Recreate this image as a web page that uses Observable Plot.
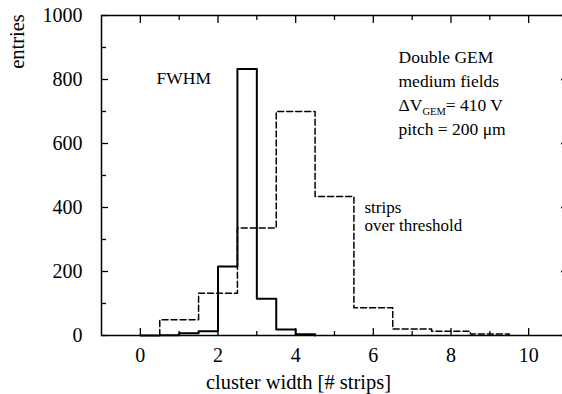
<!DOCTYPE html>
<html><head><meta charset="utf-8">
<script src="https://cdn.jsdelivr.net/npm/d3@7"></script>
<script src="https://cdn.jsdelivr.net/npm/@observablehq/plot@0.6"></script>
<style>html,body{margin:0;padding:0;background:#fff;} svg text{font-family:'Liberation Serif',serif;}</style>
</head><body><div id="chart"></div>
<script>
// FWHM cluster width histogram (bin lower edges, counts)
const fwhmBinLow = [0, 0.5, 1.0, 1.5, 2.0, 2.5, 3.0, 3.5, 4.0];
const fwhmCounts = [0, 1, 7, 13, 216, 833, 115, 19, 4];
const fwhmBinWidth = 0.5;
// strips over threshold histogram (bin centers, counts)
const stripsBinCenter = [1, 2, 3, 4, 5, 6, 7, 8, 9];
const stripsCounts = [49, 132, 336, 700, 434, 87, 20, 13, 5];
const stripsBinWidth = 1;
// ticks
const xMajorTicks = [0, 2, 4, 6, 8, 10];
const xMinorTicks = [1, 3, 5, 7, 9];
const yMajorTicks = [0, 200, 400, 600, 800, 1000];
const yMinorTicks = [100, 300, 500, 700, 900];
const infoLines = ["Double GEM", "medium fields", "ΔVGEM= 410 V", "pitch = 200 μm"];
const stripsLabel = ["strips", "over threshold"];

function steps(lows, counts, w) {
  const pts = [{x: lows[0], y: 0}];
  lows.forEach((lo, i) => pts.push({x: lo, y: counts[i]}));
  const hi = lows[lows.length - 1] + w;
  pts.push({x: hi, y: counts[counts.length - 1]});
  pts.push({x: hi, y: 0});
  return pts;
}
const fwhmSteps = steps(fwhmBinLow, fwhmCounts, fwhmBinWidth);
const stripsSteps = steps(stripsBinCenter.map(c => c - stripsBinWidth / 2), stripsCounts, stripsBinWidth);

const font = "'Liberation Serif', serif";
const fmt = d => String(d);
const chart = Plot.plot({
  width: 562,
  height: 394,
  marginLeft: 101,
  marginRight: -5,
  marginTop: 15,
  marginBottom: 59,
  style: {fontFamily: font, fontSize: "20px", background: "white", color: "black"},
  x: {domain: [-1, 11], label: null},
  y: {domain: [0, 1000], label: null},
  marks: [
    Plot.frame({stroke: "black", strokeWidth: 1.5}),
    // inward ticks
    Plot.axisX(xMajorTicks, {anchor: "bottom", tickSize: -7, tickFormat: () => "", label: null, strokeWidth: 1.3}),
    Plot.axisX(xMinorTicks, {anchor: "bottom", tickSize: -4, tickFormat: () => "", label: null, strokeWidth: 1.3}),
    Plot.axisX(xMajorTicks, {anchor: "top", tickSize: -7, tickFormat: () => "", label: null, strokeWidth: 1.3}),
    Plot.axisX(xMinorTicks, {anchor: "top", tickSize: -4, tickFormat: () => "", label: null, strokeWidth: 1.3}),
    Plot.axisY(yMajorTicks, {anchor: "left", tickSize: -7, tickFormat: () => "", label: null, strokeWidth: 1.3}),
    Plot.axisY(yMinorTicks, {anchor: "left", tickSize: -5, tickFormat: () => "", label: null, strokeWidth: 1.3}),
    Plot.axisY(yMajorTicks, {anchor: "right", tickSize: -7, tickFormat: () => "", label: null, strokeWidth: 1.3}),
    Plot.axisY(yMinorTicks, {anchor: "right", tickSize: -5, tickFormat: () => "", label: null, strokeWidth: 1.3}),
    // tick labels
    Plot.axisX(xMajorTicks, {anchor: "bottom", tickSize: 0, tickPadding: 12, label: null, fontSize: 20, fontFamily: font, tickFormat: fmt}),
    Plot.axisY(yMajorTicks, {anchor: "left", tickSize: 0, tickPadding: 19, label: null, fontSize: 20, fontFamily: font, tickFormat: fmt}),
    // histograms
    Plot.line(stripsSteps, {x: "x", y: "y", curve: "step-after", stroke: "black", strokeWidth: 1.5, strokeDasharray: "6,3"}),
    Plot.line(fwhmSteps, {x: "x", y: "y", curve: "step-after", stroke: "black", strokeWidth: 2}),
    // annotations
    Plot.text(["FWHM"], {text: d => d, frameAnchor: "top-left", dx: 55, dy: 63, textAnchor: "start", lineAnchor: "middle", fontSize: 17.5, fontFamily: font}),
    Plot.text([infoLines.join("\n")], {text: d => d, frameAnchor: "top-left", dx: 297, dy: 76, textAnchor: "start", lineAnchor: "middle", lineHeight: 1.366, fontSize: 17.5, fontFamily: font}),
    Plot.text([stripsLabel.join("\n")], {text: d => d, frameAnchor: "top-left", dx: 263, dy: 201, textAnchor: "start", lineAnchor: "middle", lineHeight: 1.06, fontSize: 17, fontFamily: font}),
    // axis labels
    Plot.text(["entries"], {text: d => d, frameAnchor: "top-left", dx: -84, dy: 26, rotate: -90, textAnchor: "middle", lineAnchor: "middle", fontSize: 20.5, fontFamily: font}),
    Plot.text(["cluster width [# strips]"], {text: d => d, frameAnchor: "bottom", dx: -36, dy: 47, textAnchor: "middle", lineAnchor: "middle", fontSize: 20.5, fontFamily: font})
  ]
});
document.getElementById("chart").appendChild(chart);

// subscript for ΔV_GEM
d3.select(chart).selectAll("tspan").each(function() {
  const t = d3.select(this);
  if (t.text() === "ΔVGEM= 410 V") {
    t.text("");
    t.append("tspan").text("ΔV");
    t.append("tspan").attr("font-size", 10.5).attr("dy", 4).text("GEM");
    t.append("tspan").attr("dy", -4).text("= 410 V");
  }
});
</script>
</body></html>
